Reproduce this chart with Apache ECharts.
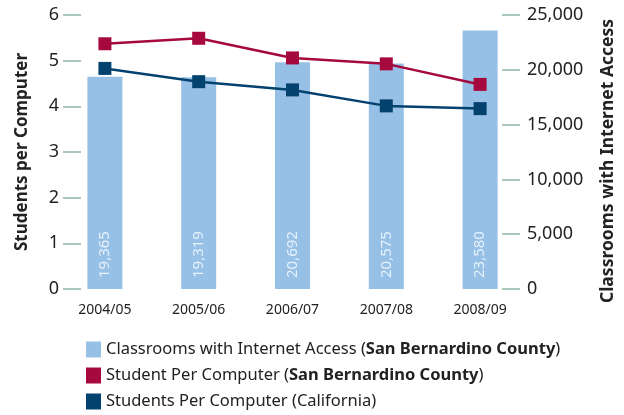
<!DOCTYPE html>
<html>
<head>
<meta charset="utf-8">
<script src="https://cdn.jsdelivr.net/npm/echarts@6/dist/echarts.min.js"></script>
<style>
  html, body { margin: 0; padding: 0; background: #fff; }
  #chart { width: 624px; height: 415px; }
</style>
</head>
<body>
<div id="chart"></div>
<script>
// data
var years = ['2004/05', '2005/06', '2006/07', '2007/08', '2008/09'];
var classrooms = [19365, 19319, 20692, 20575, 23580];
var sbcPerComputer = [5.37, 5.49, 5.06, 4.93, 4.48];
var caPerComputer = [4.83, 4.54, 4.36, 4.01, 3.95];

var names = [
  'Classrooms with Internet Access (San Bernardino County)',
  'Student Per Computer (San Bernardino County)',
  'Students Per Computer (California)'
];

var font = '"Noto Sans", "Open Sans", sans-serif';
var tickColor = '#8fb8a8';

// one legend per row so they stack like the original
function legendRow(i, top) {
  return {
    orient: 'vertical',
    left: 81,
    top: top,
    itemWidth: 15,
    itemHeight: 16,
    textStyle: {
      fontFamily: font, fontSize: 16.5, color: '#222',
      rich: { b: { fontFamily: font, fontSize: 16.5, fontWeight: 'bold', color: '#222' } }
    },
    formatter: function (name) {
      return name.replace('San Bernardino County', '{b|San Bernardino County}');
    },
    data: [{ name: names[i], icon: 'rect' }]
  };
}

var myChart = echarts.init(document.getElementById('chart'));
myChart.setOption({
  animation: false,
  textStyle: { fontFamily: font },
  grid: { left: 58, right: 97, top: 15, bottom: 126, outerBoundsMode: 'none' },
  legend: [legendRow(0, 336), legendRow(1, 362), legendRow(2, 388)],
  xAxis: {
    type: 'category',
    data: years,
    axisLine: { show: false },
    axisTick: { show: false },
    axisLabel: { margin: 14, fontSize: 14, color: '#222', fontFamily: font }
  },
  yAxis: [
    {
      type: 'value', min: 0, max: 6, interval: 1,
      position: 'left', offset: -23,
      name: 'Students per Computer',
      nameLocation: 'middle', nameGap: 50, nameRotate: 90,
      nameTextStyle: { fontSize: 17, fontWeight: 'bold', color: '#222', fontFamily: font },
      axisLine: { show: false },
      axisTick: { show: true, length: 18, lineStyle: { color: tickColor, width: 1.5 } },
      splitLine: { show: false },
      axisLabel: { margin: 22, fontSize: 18, color: '#222', fontFamily: font }
    },
    {
      type: 'value', min: 0, max: 25000, interval: 5000,
      position: 'right', offset: -25,
      name: 'Classrooms with Internet Access',
      nameLocation: 'middle', nameGap: 97, nameRotate: 90,
      nameTextStyle: {
        fontSize: 17.5, fontWeight: 'bold', color: '#222', fontFamily: font,
        padding: [0, 18, 0, 0]
      },
      axisLine: { show: false },
      axisTick: { show: true, length: 18, lineStyle: { color: tickColor, width: 1.5 } },
      splitLine: { show: false },
      axisLabel: {
        margin: 25, fontSize: 18, color: '#222', fontFamily: font,
        formatter: function (v) { return v.toLocaleString('en-US'); }
      }
    }
  ],
  series: [
    {
      name: names[0], type: 'bar', yAxisIndex: 1,
      data: classrooms, barWidth: 35,
      itemStyle: { color: '#96c0e6' },
      label: {
        show: true, position: 'insideBottom', rotate: 90,
        align: 'left', verticalAlign: 'middle', distance: 11,
        fontSize: 15, color: '#e6f1fb', fontFamily: font,
        formatter: function (p) { return p.value.toLocaleString('en-US'); }
      }
    },
    {
      name: names[1], type: 'line', yAxisIndex: 0,
      data: sbcPerComputer,
      symbol: 'rect', symbolSize: 13,
      lineStyle: { color: '#a6093d', width: 2.5 },
      itemStyle: { color: '#a6093d' }
    },
    {
      name: names[2], type: 'line', yAxisIndex: 0,
      data: caPerComputer,
      symbol: 'rect', symbolSize: 13,
      lineStyle: { color: '#03426f', width: 2.5 },
      itemStyle: { color: '#03426f' }
    }
  ]
});
</script>
</body>
</html>
